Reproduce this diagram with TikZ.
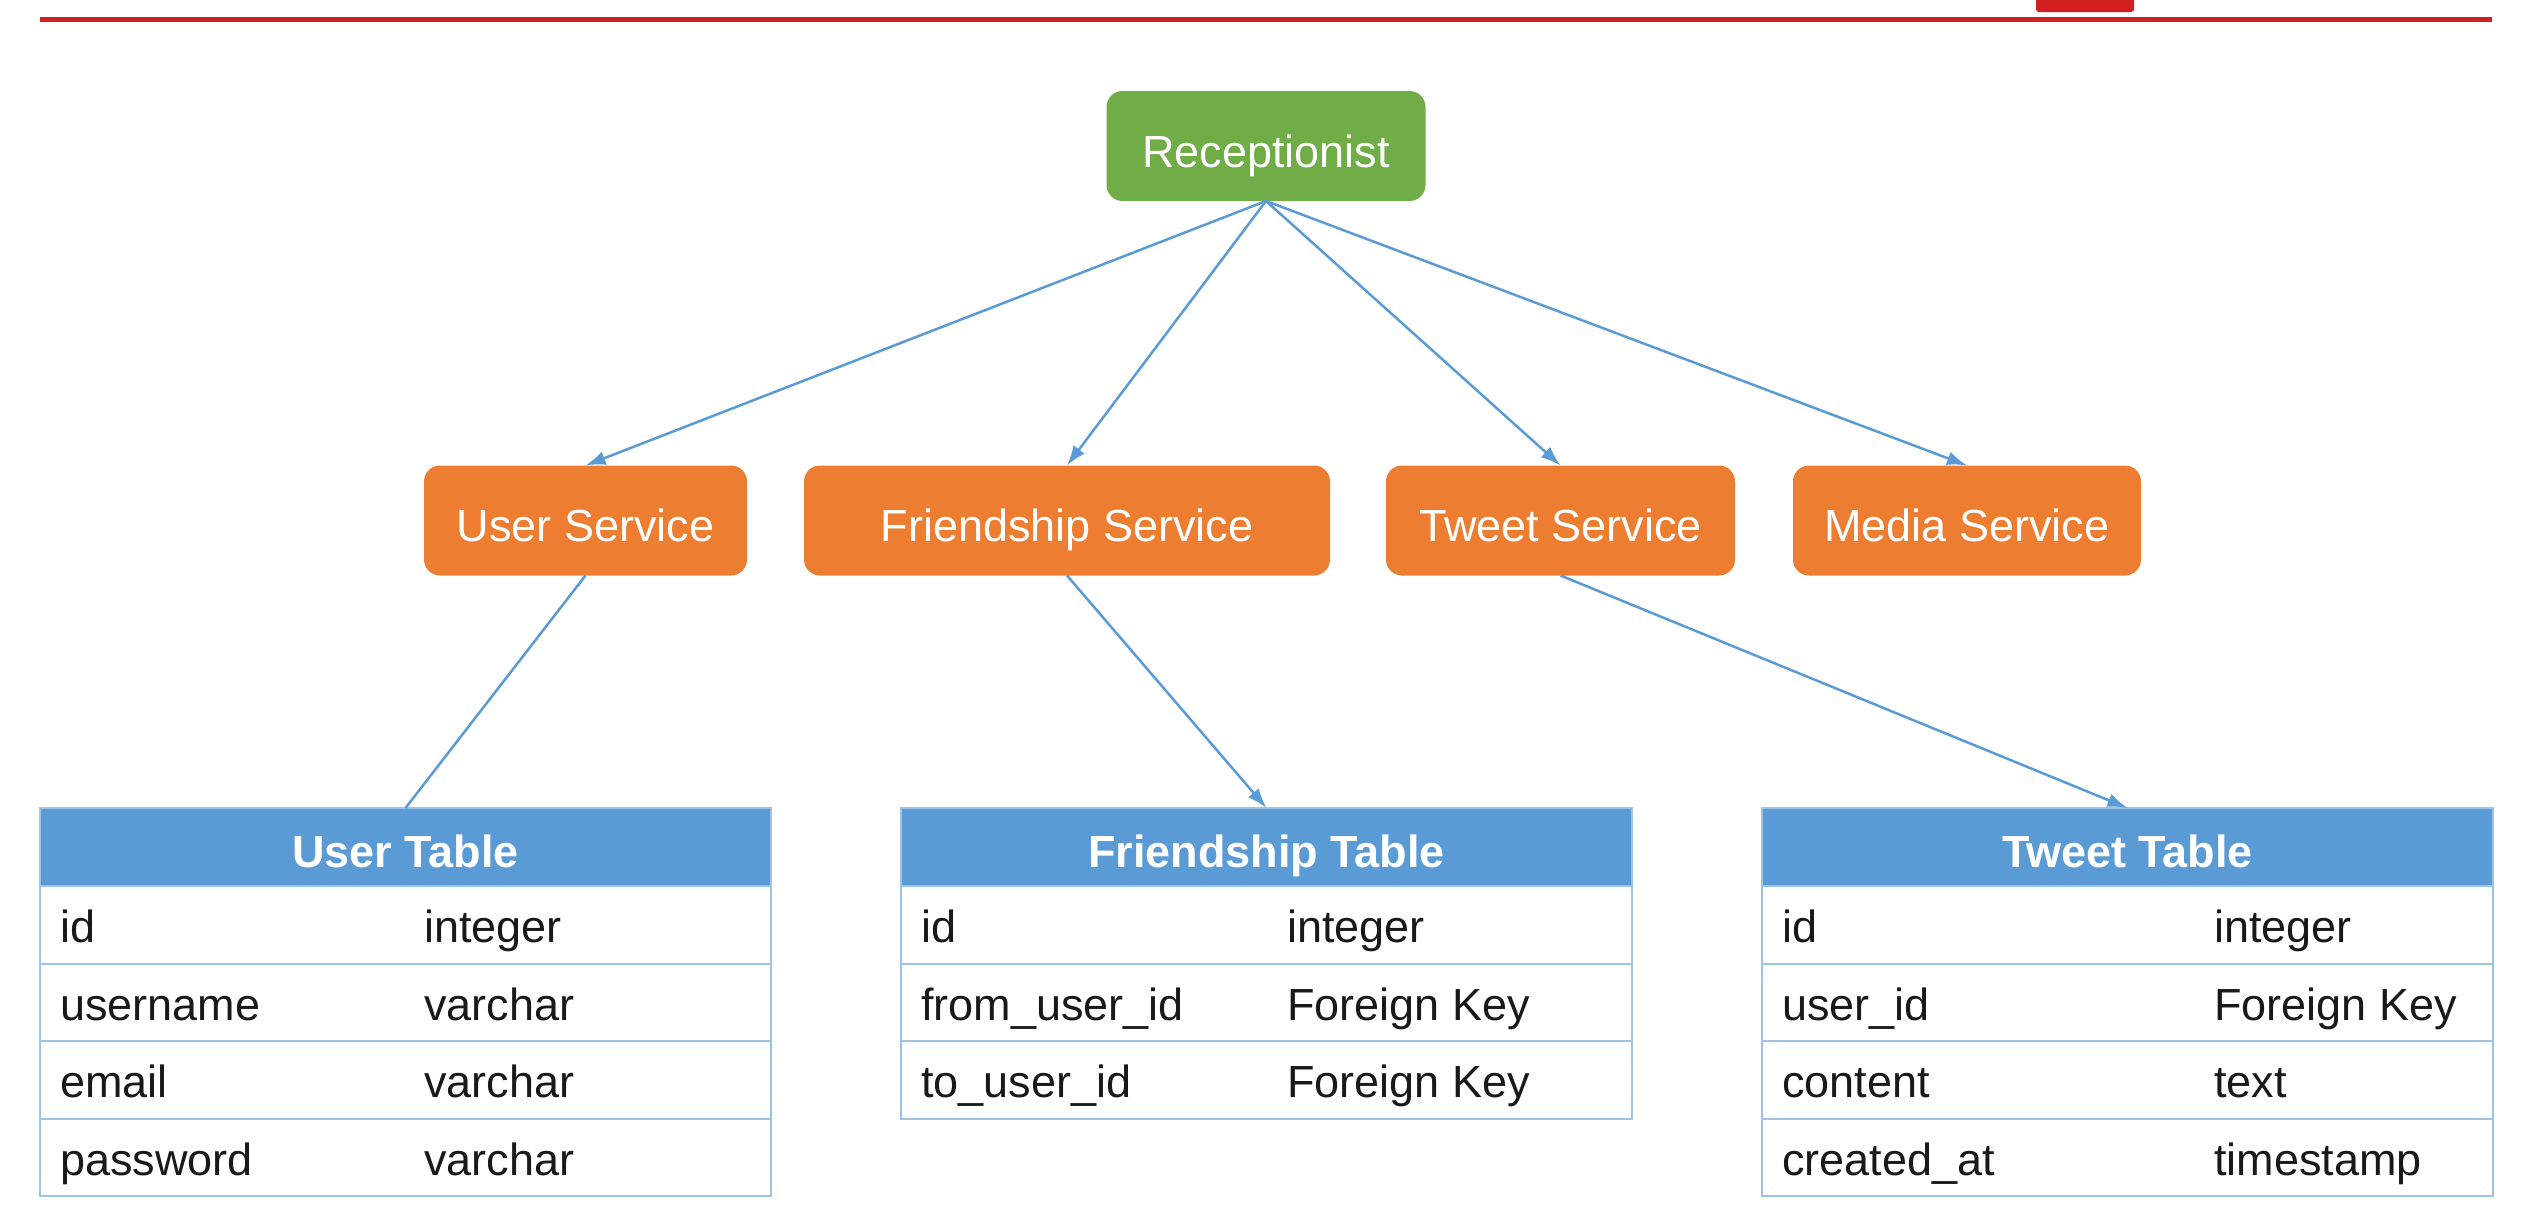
\documentclass[tikz,border=0pt]{standalone}
\usepackage{fontspec}
\setmainfont{Liberation Sans}
\usetikzlibrary{arrows.meta,positioning}
\definecolor{recgreen}{HTML}{70AD47}
\definecolor{svcorange}{HTML}{ED7D31}
\definecolor{tblblue}{HTML}{5B9BD5}
\definecolor{rowline}{HTML}{9DC3E6}
\definecolor{linkblue}{HTML}{5B9BD5}
\definecolor{barred}{HTML}{D21F1F}
\begin{document}
\begin{tikzpicture}[x=1pt,y=-1pt,
  box/.style={rounded corners=16pt, text=white, font=\fontsize{45}{54}\selectfont,
    minimum height=110pt, inner sep=0pt, outer sep=0pt, text height=42pt, text depth=0pt},
  hdr/.style={fill=tblblue, draw=rowline, line width=2pt, text=white,
    font=\fontsize{45}{54}\selectfont\bfseries, minimum width=731pt, minimum height=78pt,
    inner sep=0pt, outer sep=0pt, text height=40pt, text depth=0pt},
  tblrow/.style={draw=rowline, line width=2pt, minimum width=731pt, minimum height=77.5pt,
    inner sep=0pt, outer sep=0pt},
  cell/.style={anchor=west, inner sep=0pt, text=black!90, font=\fontsize{45}{54}\selectfont,
    text height=36pt, text depth=0pt},
  link/.style={draw=linkblue, line width=2.5pt},
  arr/.style={link, -{Latex[length=20pt,width=14pt]}}]
\useasboundingbox (0,0) rectangle (2530,1210);
\draw[barred, line width=5pt] (40,19.5) -- (2492,19.5); % top bar
\fill[barred, rounded corners=3pt] (2036,-4) rectangle (2134,12); % logo

% services
\node[box, fill=recgreen, minimum width=319pt] (rec) at (1266,146) {Receptionist};
\node[box, fill=svcorange, minimum width=323pt] (us) at (585.5,520.5) {User Service};
\node[box, fill=svcorange, minimum width=526pt] (fs) at (1067,520.5) {Friendship Service};
\node[box, fill=svcorange, minimum width=349pt] (ts) at (1560.5,520.5) {Tweet Service};
\node[box, fill=svcorange, minimum width=348pt] (ms) at (1967,520.5) {Media Service};

% user table
\node[hdr] (uth) at (405.5,847) {User Table};
\node[tblrow, below=0pt of uth] (ut1) {};
\node[tblrow, below=0pt of ut1] (ut2) {};
\node[tblrow, below=0pt of ut2] (ut3) {};
\node[tblrow, below=0pt of ut3] (ut4) {};
\node[cell] at ([xshift=20pt]ut1.west) {id};
\node[cell] at ([xshift=384pt]ut1.west) {integer};
\node[cell] at ([xshift=20pt]ut2.west) {username};
\node[cell] at ([xshift=384pt]ut2.west) {varchar};
\node[cell] at ([xshift=20pt]ut3.west) {email};
\node[cell] at ([xshift=384pt]ut3.west) {varchar};
\node[cell] at ([xshift=20pt]ut4.west) {password};
\node[cell] at ([xshift=384pt]ut4.west) {varchar};

% friendship table
\node[hdr] (fth) at (1266.5,847) {Friendship Table};
\node[tblrow, below=0pt of fth] (ft1) {};
\node[tblrow, below=0pt of ft1] (ft2) {};
\node[tblrow, below=0pt of ft2] (ft3) {};
\node[cell] at ([xshift=20pt]ft1.west) {id};
\node[cell] at ([xshift=386pt]ft1.west) {integer};
\node[cell] at ([xshift=20pt]ft2.west) {from\_user\_id};
\node[cell] at ([xshift=386pt]ft2.west) {Foreign Key};
\node[cell] at ([xshift=20pt]ft3.west) {to\_user\_id};
\node[cell] at ([xshift=386pt]ft3.west) {Foreign Key};

% tweet table
\node[hdr] (tth) at (2127.5,847) {Tweet Table};
\node[tblrow, below=0pt of tth] (tt1) {};
\node[tblrow, below=0pt of tt1] (tt2) {};
\node[tblrow, below=0pt of tt2] (tt3) {};
\node[tblrow, below=0pt of tt3] (tt4) {};
\node[cell] at ([xshift=20pt]tt1.west) {id};
\node[cell] at ([xshift=452pt]tt1.west) {integer};
\node[cell] at ([xshift=20pt]tt2.west) {user\_id};
\node[cell] at ([xshift=452pt]tt2.west) {Foreign Key};
\node[cell] at ([xshift=20pt]tt3.west) {content};
\node[cell] at ([xshift=452pt]tt3.west) {text};
\node[cell] at ([xshift=20pt]tt4.west) {created\_at};
\node[cell] at ([xshift=452pt]tt4.west) {timestamp};

% links
\draw[arr] (rec.south) -- (us.north);
\draw[arr] (rec.south) -- (fs.north);
\draw[arr] (rec.south) -- (ts.north);
\draw[arr] (rec.south) -- (ms.north);
\draw[link] (us.south) -- (uth.north);
\draw[arr] (fs.south) -- (fth.north);
\draw[arr] (ts.south) -- (tth.north);
\end{tikzpicture}
\end{document}
